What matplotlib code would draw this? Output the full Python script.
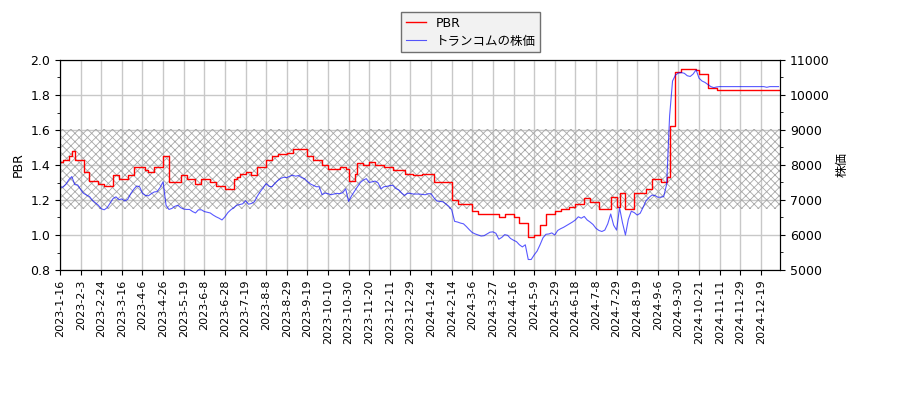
import numpy as np
import matplotlib
matplotlib.use("Agg")
import matplotlib.pyplot as plt
from matplotlib.ticker import MultipleLocator, AutoMinorLocator

plt.rcParams['font.family'] = ['DejaVu Sans', 'Noto Sans CJK JP']
plt.rcParams['hatch.linewidth'] = 0.6

# one value every 2 trading days, starting 2023-1-16
price = [
    7360, 7370, 7450, 7580, 7670, 7440, 7430, 7300, 7190, 7140,
    7100, 6990, 6920, 6850, 6750, 6720, 6780, 6910, 7040, 7090,
    7010, 7030, 6970, 7020, 7180, 7300, 7400, 7380, 7190, 7130,
    7120, 7180, 7230, 7240, 7360, 7520, 6850, 6730, 6760, 6820,
    6850, 6780, 6740, 6730, 6730, 6670, 6630, 6720, 6720, 6670,
    6650, 6630, 6570, 6520, 6480, 6430, 6520, 6640, 6720, 6780,
    6850, 6870, 6890, 6980, 6880, 6900, 6950, 7110, 7240, 7350,
    7470, 7390, 7380, 7480, 7560, 7620, 7650, 7640, 7680, 7710,
    7680, 7700, 7640, 7610, 7530, 7460, 7420, 7380, 7380, 7150,
    7200, 7180, 7150, 7170, 7190, 7180, 7210, 7320, 6960, 7120,
    7250, 7380, 7500, 7570, 7610, 7500, 7520, 7540, 7490, 7320,
    7380, 7390, 7410, 7420, 7330, 7290, 7200, 7130, 7190, 7190,
    7170, 7170, 7170, 7160, 7150, 7180, 7180, 7060, 6970, 6960,
    6950, 6890, 6820, 6720, 6390, 6370, 6340, 6320, 6240, 6150,
    6070, 6030, 6000, 5970, 5980, 6030, 6080, 6090, 6050, 5880,
    5930, 6010, 5990, 5900, 5850, 5810, 5720, 5660, 5720, 5300,
    5300, 5430, 5540, 5720, 5920, 6020, 6030, 6060, 6000, 6130,
    6180, 6220, 6270, 6320, 6370, 6430, 6520, 6480, 6530, 6430,
    6370, 6300, 6190, 6130, 6100, 6140, 6320, 6600, 6280, 6140,
    6780, 6350, 6000, 6450, 6680, 6640, 6570, 6620, 6790, 6980,
    7070, 7140, 7130, 7080, 7080, 7100, 7450, 9400, 10400, 10570,
    10630, 10640, 10620, 10550, 10530, 10600, 10720, 10480, 10400, 10360,
    10300, 10240, 10210, 10230, 10240, 10240, 10240, 10240, 10240, 10240,
    10240, 10240, 10240, 10240, 10240, 10240, 10240, 10240, 10240, 10240,
    10220, 10240, 10240, 10240, 10240,
]

pbr = [
    1.42, 1.43, 1.43, 1.45, 1.48, 1.43, 1.43, 1.43, 1.36, 1.36,
    1.31, 1.31, 1.31, 1.29, 1.29, 1.28, 1.28, 1.28, 1.34, 1.34,
    1.32, 1.32, 1.32, 1.34, 1.34, 1.39, 1.39, 1.39, 1.39, 1.37,
    1.36, 1.36, 1.39, 1.39, 1.39, 1.45, 1.45, 1.30, 1.30, 1.30,
    1.30, 1.34, 1.34, 1.32, 1.32, 1.32, 1.29, 1.29, 1.32, 1.32,
    1.32, 1.30, 1.30, 1.28, 1.28, 1.28, 1.26, 1.26, 1.26, 1.32,
    1.33, 1.35, 1.35, 1.36, 1.36, 1.34, 1.34, 1.39, 1.39, 1.39,
    1.43, 1.43, 1.45, 1.45, 1.46, 1.46, 1.46, 1.47, 1.47, 1.49,
    1.49, 1.49, 1.49, 1.49, 1.45, 1.45, 1.43, 1.43, 1.43, 1.40,
    1.40, 1.38, 1.38, 1.38, 1.38, 1.39, 1.39, 1.38, 1.31, 1.31,
    1.35, 1.41, 1.41, 1.40, 1.40, 1.42, 1.42, 1.40, 1.40, 1.40,
    1.39, 1.39, 1.39, 1.37, 1.37, 1.37, 1.37, 1.35, 1.35, 1.35,
    1.345, 1.345, 1.345, 1.35, 1.35, 1.35, 1.35, 1.30, 1.30, 1.30,
    1.30, 1.30, 1.30, 1.20, 1.20, 1.18, 1.18, 1.18, 1.18, 1.18,
    1.14, 1.14, 1.12, 1.12, 1.12, 1.12, 1.12, 1.12, 1.12, 1.10,
    1.10, 1.12, 1.12, 1.12, 1.10, 1.10, 1.07, 1.07, 1.07, 0.99,
    0.99, 1.00, 1.00, 1.06, 1.06, 1.12, 1.12, 1.12, 1.14, 1.14,
    1.15, 1.15, 1.15, 1.16, 1.16, 1.18, 1.18, 1.18, 1.21, 1.21,
    1.19, 1.19, 1.19, 1.15, 1.15, 1.15, 1.15, 1.22, 1.22, 1.16,
    1.24, 1.24, 1.15, 1.15, 1.15, 1.24, 1.24, 1.24, 1.24, 1.26,
    1.26, 1.32, 1.32, 1.32, 1.30, 1.30, 1.33, 1.62, 1.62, 1.93,
    1.93, 1.95, 1.95, 1.95, 1.95, 1.95, 1.94, 1.92, 1.92, 1.92,
    1.84, 1.84, 1.84, 1.83, 1.83, 1.83, 1.83, 1.83, 1.83, 1.83,
    1.83, 1.83, 1.83, 1.83, 1.83, 1.83, 1.83, 1.83, 1.83, 1.83,
    1.83, 1.83, 1.83, 1.83, 1.83,
]

date_labels = [
    "2023-1-16", "2023-2-3", "2023-2-24", "2023-3-16", "2023-4-6",
    "2023-4-26", "2023-5-19", "2023-6-8", "2023-6-28", "2023-7-19",
    "2023-8-8", "2023-8-29", "2023-9-19", "2023-10-10", "2023-10-30",
    "2023-11-20", "2023-12-11", "2023-12-29", "2024-1-24", "2024-2-14",
    "2024-3-6", "2024-3-27", "2024-4-16", "2024-5-9", "2024-5-29",
    "2024-6-18", "2024-7-8", "2024-7-29", "2024-8-19", "2024-9-6",
    "2024-9-30", "2024-10-21", "2024-11-11", "2024-11-29", "2024-12-19",
]
band = (1.147, 1.606)

step = 2
days = np.arange(len(price)) * step
last_day = days[-1] + 1

fig = plt.figure(figsize=(9, 4), dpi=100)
ax = fig.add_axes([0.0667, 0.325, 0.8, 0.525])
ax2 = ax.twinx()

ax.fill_between([0, last_day], band[0], band[1], facecolor='none',
                edgecolor='#a8a8a8', hatch='xxxx', linewidth=0)
l1, = ax.plot(days, pbr, color='red', linewidth=1.0, drawstyle='steps-post', label='PBR')
l2, = ax2.plot(days, price, color='blue', linewidth=0.8, alpha=0.65, label='トランコムの株価')

ax.set_xlim(0, last_day)
ax.set_ylim(0.8, 2.0)
ax2.set_ylim(5000, 11000)
ax.yaxis.set_major_locator(MultipleLocator(0.2))
ax.yaxis.set_minor_locator(AutoMinorLocator(2))
ax2.yaxis.set_major_locator(MultipleLocator(1000))
ax2.yaxis.set_minor_locator(AutoMinorLocator(2))

ax.set_xticks(np.arange(len(date_labels)) * 14)
ax.set_xticklabels(date_labels, rotation=90, fontsize=8)
ax.tick_params(axis='y', labelsize=9)
ax2.tick_params(axis='y', labelsize=9)
ax.grid(True, color='#c8c8c8', linewidth=1.0)
ax.set_axisbelow(True)

ax.set_ylabel('PBR', fontsize=9)
ax2.set_ylabel('株価', fontsize=9)

fig.legend(handles=[l1, l2], loc='upper center', bbox_to_anchor=(0.523, 0.985),
           fontsize=9, fancybox=False, edgecolor='#707070', facecolor='#f2f2f2',
           framealpha=1.0, borderpad=0.35, labelspacing=0.4, handlelength=1.6)

fig.savefig('out.png', dpi=100)
